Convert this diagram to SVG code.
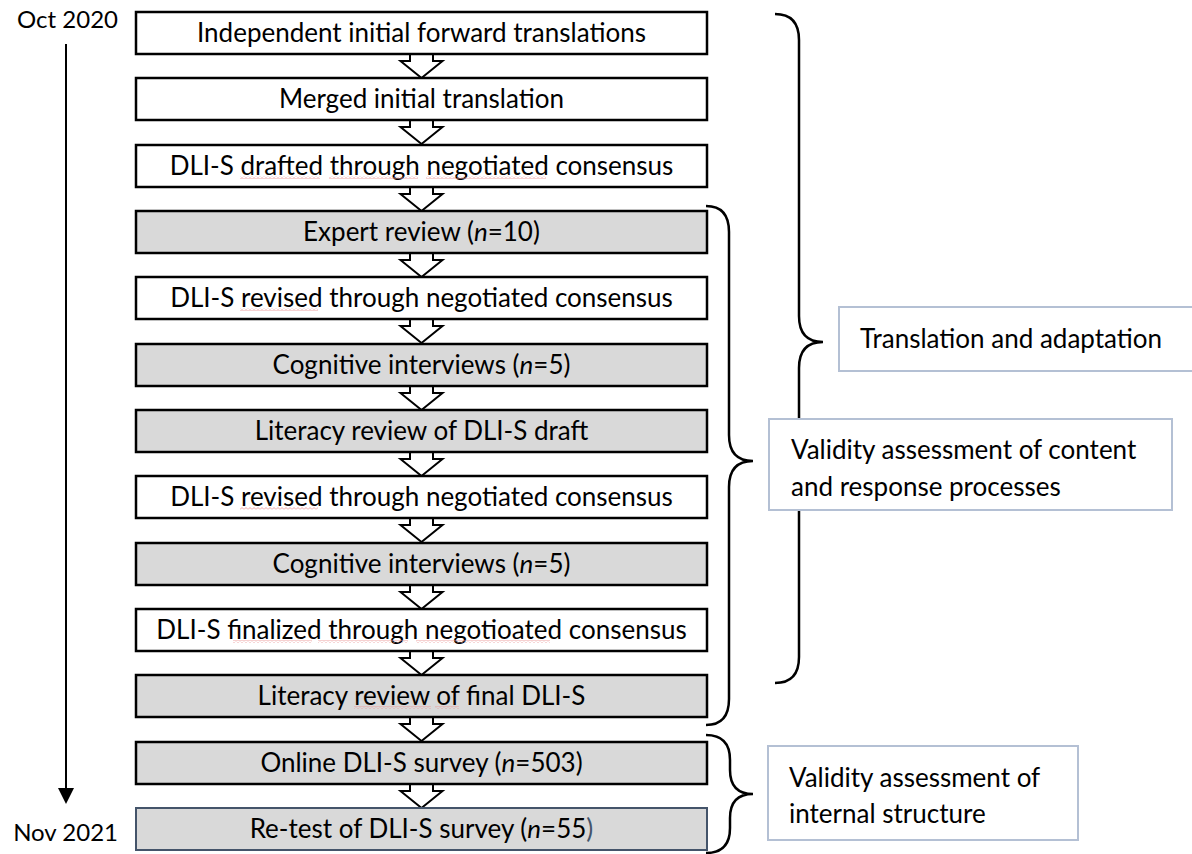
<svg xmlns="http://www.w3.org/2000/svg" width="1192" height="854" viewBox="0 0 1192 854">
  <style>
    text { font-family: "Lato", "Liberation Sans", sans-serif; font-size: 26px; fill: #000; }
    .date { font-size: 24px; text-anchor: end; }
    .step { fill: #fff; stroke: #000; stroke-width: 2.5; }
    .step.grey { fill: #d9d9d9; }
    .step.last { stroke: #44546a; stroke-width: 2; }
    .lbl { fill: #fff; stroke: #b4c0d4; stroke-width: 2; }
    .flow { fill: #fff; stroke: #000; stroke-width: 2; stroke-linejoin: miter; }
    .brace { fill: none; stroke: #000; stroke-width: 2.5; }
    .spell { fill: url(#squiggle); }
    .c { text-anchor: middle; }
  </style>
  <defs>
    <path id="hollow-arrow" d="M -11.5 0 L -11.5 7 L -21 7 L 0 24 L 21 7 L 11.5 7 L 11.5 0"/>
    <pattern id="squiggle" width="4" height="3" patternUnits="userSpaceOnUse">
      <path d="M0 2.5 L2 0.5 L4 2.5" fill="none" stroke="#ec9a9a" stroke-width="0.9"/>
    </pattern>
  </defs>

  <rect width="1192" height="854" fill="#fff"/>

  <!-- timeline -->
  <g id="timeline">
    <text class="date" x="118" y="28">Oct 2020</text>
    <line x1="66" y1="44" x2="66" y2="790" stroke="#000" stroke-width="2"/>
    <polygon points="58,788 74,788 66,804" fill="#000"/>
    <text class="date" x="118" y="841">Nov 2021</text>
  </g>

  <!-- connectors between steps -->
  <g id="connectors">
    <use href="#hollow-arrow" class="flow" transform="translate(421.5,54)"/>
    <use href="#hollow-arrow" class="flow" transform="translate(421.5,120)"/>
    <use href="#hollow-arrow" class="flow" transform="translate(421.5,187)"/>
    <use href="#hollow-arrow" class="flow" transform="translate(421.5,253)"/>
    <use href="#hollow-arrow" class="flow" transform="translate(421.5,319)"/>
    <use href="#hollow-arrow" class="flow" transform="translate(421.5,386)"/>
    <use href="#hollow-arrow" class="flow" transform="translate(421.5,452)"/>
    <use href="#hollow-arrow" class="flow" transform="translate(421.5,518)"/>
    <use href="#hollow-arrow" class="flow" transform="translate(421.5,585)"/>
    <use href="#hollow-arrow" class="flow" transform="translate(421.5,651)"/>
    <use href="#hollow-arrow" class="flow" transform="translate(421.5,717)"/>
    <use href="#hollow-arrow" class="flow" transform="translate(421.5,784)"/>
  </g>

  <!-- steps -->
  <g id="step-1">
    <rect class="step" x="136" y="12" width="571" height="42"/>
    <text class="c" x="421.5" y="42">Independent initial forward translations</text>
  </g>
  <g id="step-2">
    <rect class="step" x="136" y="78" width="571" height="42"/>
    <text class="c" x="421.5" y="108">Merged initial translation</text>
  </g>
  <g id="step-3">
    <rect class="step" x="136" y="145" width="571" height="42"/>
    <text class="c" x="421.5" y="175">DLI-S drafted through negotiated consensus</text>
    <rect class="spell" x="240" y="176" width="80" height="3"/>
    <rect class="spell" x="329" y="176" width="89" height="3"/>
    <rect class="spell" x="426" y="176" width="120" height="3"/>
  </g>
  <g id="step-4">
    <rect class="step grey" x="136" y="211" width="571" height="42"/>
    <text class="c" x="421.5" y="241">Expert review (<tspan font-style="italic">n</tspan>=10)</text>
  </g>
  <g id="step-5">
    <rect class="step" x="136" y="277" width="571" height="42"/>
    <text class="c" x="421.5" y="307">DLI-S revised through negotiated consensus</text>
    <rect class="spell" x="240" y="308" width="78" height="3"/>
  </g>
  <g id="step-6">
    <rect class="step grey" x="136" y="344" width="571" height="42"/>
    <text class="c" x="421.5" y="374">Cognitive interviews (<tspan font-style="italic">n</tspan>=5)</text>
  </g>
  <g id="step-7">
    <rect class="step grey" x="136" y="410" width="571" height="42"/>
    <text class="c" x="421.5" y="440">Literacy review of DLI-S draft</text>
  </g>
  <g id="step-8">
    <rect class="step" x="136" y="476" width="571" height="42"/>
    <text class="c" x="421.5" y="506">DLI-S revised through negotiated consensus</text>
    <rect class="spell" x="240" y="507" width="78" height="3"/>
  </g>
  <g id="step-9">
    <rect class="step grey" x="136" y="543" width="571" height="42"/>
    <text class="c" x="421.5" y="573">Cognitive interviews (<tspan font-style="italic">n</tspan>=5)</text>
  </g>
  <g id="step-10">
    <rect class="step" x="136" y="609" width="571" height="42"/>
    <text class="c" x="421.5" y="639">DLI-S finalized through negotioated consensus</text>
    <rect class="spell" x="233" y="640" width="79" height="3"/>
    <rect class="spell" x="318" y="640" width="90" height="3"/>
    <rect class="spell" x="416" y="640" width="134" height="3"/>
  </g>
  <g id="step-11">
    <rect class="step grey" x="136" y="675" width="571" height="42"/>
    <text class="c" x="421.5" y="705">Literacy review of final DLI-S</text>
    <rect class="spell" x="354" y="706" width="77" height="3"/>
    <rect class="spell" x="435" y="706" width="24" height="3"/>
  </g>
  <g id="step-12">
    <rect class="step grey" x="136" y="742" width="571" height="42"/>
    <text class="c" x="421.5" y="772">Online DLI-S survey (<tspan font-style="italic">n</tspan>=503)</text>
  </g>
  <g id="step-13">
    <rect class="step grey last" x="136" y="808" width="571" height="42"/>
    <text class="c" x="421.5" y="838">Re-test of DLI-S survey (<tspan font-style="italic">n</tspan>=55<tspan fill="#44546a">)</tspan></text>
  </g>

  <!-- braces grouping the phases -->
  <g id="braces">
    <path class="brace" d="M 775 14 Q 799 14 799 40 L 799 316 Q 799 342 823 342 Q 799 342 799 368 L 799 657 Q 799 683 775 683"/>
    <path class="brace" d="M 706 206 Q 729 206 729 232 L 729 435 Q 729 461 753 461 Q 729 461 729 487 L 729 699 Q 729 725 706 725"/>
    <path class="brace" d="M 706 735 Q 730 735 730 760 L 730 770 Q 730 794 753 794 Q 730 794 730 818 L 730 828 Q 730 853 706 853"/>
  </g>

  <!-- phase labels -->
  <g id="label-translation">
    <rect class="lbl" x="839" y="307" width="360" height="64"/>
    <text x="860" y="348">Translation and adaptation</text>
  </g>
  <g id="label-content">
    <rect class="lbl" x="769" y="419" width="403" height="91"/>
    <text x="791" y="459">Validity assessment of content</text>
    <text x="791" y="496">and response processes</text>
  </g>
  <g id="label-structure">
    <rect class="lbl" x="768" y="746" width="310" height="94"/>
    <text x="789" y="787">Validity assessment of</text>
    <text x="789" y="823">internal structure</text>
  </g>
</svg>
